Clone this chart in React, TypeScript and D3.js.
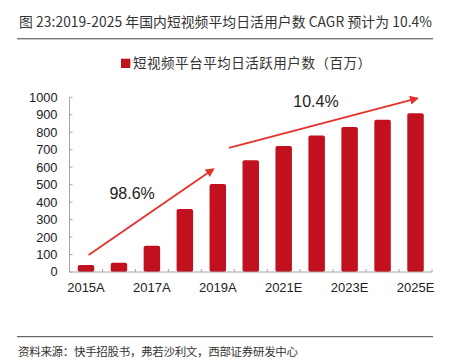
import React from "react";
import * as d3 from "d3";

const categories = ["2015A", "2016A", "2017A", "2018A", "2019A", "2020E", "2021E", "2022E", "2023E", "2024E", "2025E"];
const values = [40, 53, 150, 360, 504, 639, 721, 782, 830, 872, 908];
const xTickLabels = ["2015A", "2017A", "2019A", "2021E", "2023E", "2025E"];
const yTicks = [0, 100, 200, 300, 400, 500, 600, 700, 800, 900, 1000];
// annotation arrows in (band units, value) space
const arrows = [
  { x1: 0.58, v1: 97, x2: 4.36, v2: 588, label: "98.6%", lx: 1.9, lv: 417 },
  { x1: 4.84, v1: 711, x2: 10.55, v2: 994, label: "10.4%", lx: 7.48, lv: 943 },
];
const title = "图 23:2019-2025 年国内短视频平均日活用户数 CAGR 预计为 10.4%";
const legendLabel = "短视频平台平均日活跃用户数（百万）";
const source = "资料来源：快手招股书，弗若沙利文，西部证券研发中心";

const W = 450, H = 361;
const left = 69.5, right = 432, top = 97.3, bottom = 272;
const BAR = "#C1111F";
const ARROW = "#E8302A";
const AXIS = "#A6A6A6";
const sans = "'Liberation Sans', Arial, sans-serif";
const cjk = "'Noto Sans CJK SC', sans-serif";

export default function App() {
  const x = d3.scaleBand<string>().domain(categories).range([left, right]).paddingInner(0.5).paddingOuter(0.25);
  const y = d3.scaleLinear().domain([0, 1000]).range([bottom, top]);
  const u = d3.scaleLinear().domain([0, categories.length]).range([left, right]);
  const step = (right - left) / categories.length;

  return (
    <svg width={W} height={H} style={{ position: "absolute", left: 0, top: 0, background: "#fff" }}>
      <defs>
        <marker id="ah" viewBox="0 0 10 10" refX="8" refY="5" markerWidth="5" markerHeight="5" orient="auto" markerUnits="strokeWidth">
          <path d="M0,0 L10,5 L0,10 z" fill={ARROW} />
        </marker>
      </defs>
      {/* title */}
      <text x={19} y={27} fontFamily={cjk} fontSize={13.8} fill="#333" textLength={413} lengthAdjust="spacing">{title}</text>
      <line x1={17} x2={433} y1={38.8} y2={38.8} stroke="#444" strokeWidth={1} />
      {/* legend */}
      <rect x={121} y={58.7} width={9.3} height={9.3} fill={BAR} />
      <text x={133} y={68.3} fontFamily={cjk} fontSize={13.5} fill="#333" textLength={238} lengthAdjust="spacing">{legendLabel}</text>
      {/* y axis */}
      <line x1={left} x2={left} y1={top} y2={bottom} stroke={AXIS} />
      {yTicks.map((t) => (
        <g key={t}>
          <line x1={left} x2={left + 3} y1={y(t)} y2={y(t)} stroke={AXIS} />
          <text x={57.5} y={y(t)} dy="0.35em" textAnchor="end" fontFamily={sans} fontSize={12.8} fill="#222">{t}</text>
        </g>
      ))}
      {/* bars */}
      {categories.map((c, i) => (
        <rect key={c} x={x(c)} y={y(values[i])} width={x.bandwidth()} height={bottom - y(values[i])} rx={2} fill={BAR} />
      ))}
      {/* x axis */}
      <line x1={left} x2={right} y1={bottom} y2={bottom} stroke={AXIS} />
      {d3.range(1, categories.length + 1).map((i) => (
        <line key={i} x1={left + i * step} x2={left + i * step} y1={bottom} y2={bottom - 3} stroke={AXIS} />
      ))}
      {categories.map((c) =>
        xTickLabels.includes(c) ? (
          <text key={c} x={(x(c) as number) + x.bandwidth() / 2} y={291.5} textAnchor="middle" fontFamily={sans} fontSize={13} fill="#222">{c}</text>
        ) : null
      )}
      {/* arrows */}
      {arrows.map((a, i) => (
        <g key={i}>
          <line x1={u(a.x1)} y1={y(a.v1)} x2={u(a.x2)} y2={y(a.v2)} stroke={ARROW} strokeWidth={1.8} markerEnd="url(#ah)" />
          <text x={u(a.lx)} y={y(a.lv)} textAnchor="middle" fontFamily={sans} fontSize={16} fill="#222">{a.label}</text>
        </g>
      ))}
      {/* footer */}
      <line x1={17} x2={433} y1={336.7} y2={336.7} stroke="#444" strokeWidth={1} />
      <text x={18} y={355.5} fontFamily={cjk} fontSize={11.5} fill="#333" textLength={280} lengthAdjust="spacing">{source}</text>
    </svg>
  );
}
